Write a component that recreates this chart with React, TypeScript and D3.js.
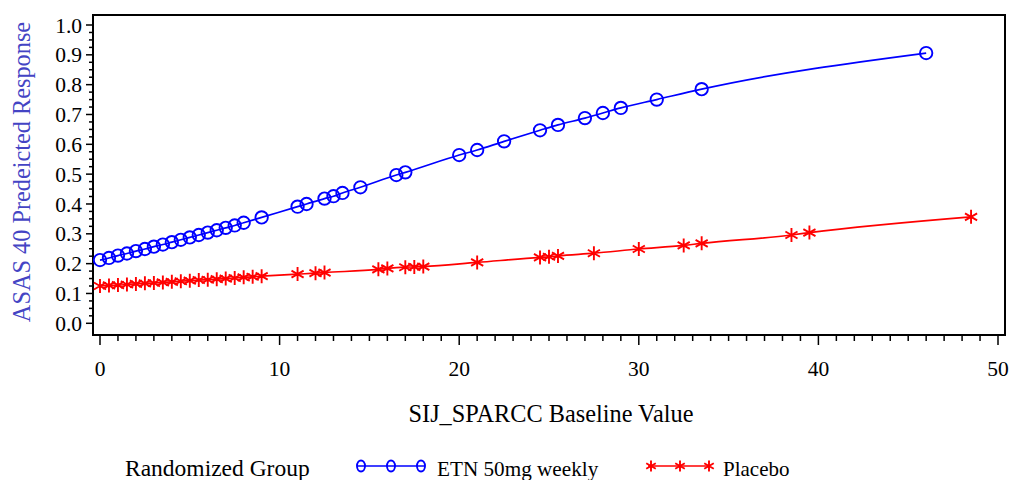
import React from "react";
import * as d3 from "d3";

const etnX = [0,0.5,1,1.5,2,2.5,3,3.5,4,4.5,5,5.5,6,6.5,7,7.5,8,9,11,11.5,12.5,13,13.5,14.5,16.5,17,20,21,22.5,24.5,25.5,27,28,29,31,33.5,46];
const etnY = [0.212,0.219,0.227,0.234,0.242,0.249,0.257,0.264,0.272,0.280,0.288,0.296,0.304,0.312,0.320,0.328,0.337,0.355,0.391,0.400,0.418,0.426,0.437,0.456,0.497,0.506,0.564,0.581,0.610,0.647,0.665,0.688,0.705,0.722,0.750,0.785,0.906];

const placeboX = [0,0.5,1,1.5,2,2.5,3,3.5,4,4.5,5,5.5,6,6.5,7,7.5,8,8.5,9,11,12,12.5,15.5,16,17,17.5,18,21,24.5,25,25.5,27.5,30,32.5,33.5,38.5,39.5,48.5];
const placeboY = [0.125,0.127,0.128,0.130,0.132,0.134,0.135,0.137,0.139,0.141,0.143,0.145,0.146,0.148,0.150,0.152,0.154,0.156,0.158,0.165,0.168,0.170,0.181,0.184,0.188,0.189,0.190,0.204,0.221,0.223,0.226,0.235,0.249,0.261,0.268,0.296,0.304,0.357];

const xTicks = [0, 10, 20, 30, 40, 50];
const yTicks = [0, 0.1, 0.2, 0.3, 0.4, 0.5, 0.6, 0.7, 0.8, 0.9, 1.0];

const seriesNames = ["ETN 50mg weekly", "Placebo"];
const legendTitle = "Randomized Group";
const xTitle = "SIJ_SPARCC Baseline Value";
const yTitle = "ASAS 40 Predeicted Response";

const FONT = "Liberation Serif, DejaVu Serif, serif";
const BLUE = "#0000ff";
const RED = "#ff0000";

function starPath(cx: number, cy: number, r: number) {
  let d = "";
  for (let k = 0; k < 3; k++) {
    const a = Math.PI / 2 + (k * Math.PI) / 3;
    const dx = Math.cos(a) * r;
    const dy = Math.sin(a) * r;
    d += `M${cx - dx},${cy - dy}L${cx + dx},${cy + dy}`;
  }
  return d;
}

export default function App() {
  const W = 1011, H = 480;
  const frame = { x0: 93, x1: 1005, y0: 15, y1: 335 };
  const x = d3.scaleLinear().domain([0, 50]).range([100, 998]);
  const y = d3.scaleLinear().domain([0, 1]).range([323.3, 25]);

  const line = d3.line<[number, number]>()
    .x((d) => x(d[0]))
    .y((d) => y(d[1]))
    .curve(d3.curveMonotoneX);

  const etn: [number, number][] = etnX.map((v, i) => [v, etnY[i]]);
  const pla: [number, number][] = placeboX.map((v, i) => [v, placeboY[i]]);

  const xMinor = d3.range(0, 51, 1);
  const yMinor = d3.range(0, 1.0001, 0.025);
  const ts = { fontFamily: FONT };

  return (
    <svg width={W} height={H} style={{ position: "absolute", left: 0, top: 0, background: "#fff" }}>
      <rect x={0} y={0} width={W} height={H} fill="#fff" />
      <rect x={frame.x0} y={frame.y0} width={frame.x1 - frame.x0} height={frame.y1 - frame.y0}
        fill="none" stroke="#000" strokeWidth={2} />
      {yMinor.map((v, i) => (
        <line key={"ym" + i} x1={frame.x0} x2={frame.x0 - (i % 4 === 0 ? 7 : 4)} y1={y(v)} y2={y(v)} stroke="#000" strokeWidth={1.5} />
      ))}
      {yTicks.map((v) => (
        <text key={"yt" + v} x={82} y={y(v)} dy="0.35em" textAnchor="end" style={ts} fontSize={21.5} fill="#000">
          {d3.format(".1f")(v)}
        </text>
      ))}
      {xMinor.map((v) => (
        <line key={"xm" + v} x1={x(v)} x2={x(v)} y1={frame.y1} y2={frame.y1 + (v % 10 === 0 ? 10 : 6)} stroke="#000" strokeWidth={1.5} />
      ))}
      {xTicks.map((v) => (
        <text key={"xt" + v} x={x(v)} y={376} textAnchor="middle" style={ts} fontSize={21.5} fill="#000">
          {v}
        </text>
      ))}
      <path d={line(etn) || ""} fill="none" stroke={BLUE} strokeWidth={1.7} />
      <path d={line(pla) || ""} fill="none" stroke={RED} strokeWidth={1.7} />
      {etn.map((d, i) => (
        <circle key={"ec" + i} cx={x(d[0])} cy={y(d[1])} r={6.2} fill="none" stroke={BLUE} strokeWidth={1.9} />
      ))}
      {pla.map((d, i) => (
        <path key={"ps" + i} d={starPath(x(d[0]), y(d[1]), 7)} fill="none" stroke={RED} strokeWidth={1.9} />
      ))}
      <text x={551} y={422} textAnchor="middle" style={ts} fontSize={24.3} fill="#000">{xTitle}</text>
      <text transform={`translate(30,172) rotate(-90)`} textAnchor="middle" style={ts} fontSize={24.3} fill="#4444c4">{yTitle}</text>
      <text x={125} y={476} style={ts} fontSize={23.5} fill="#000">{legendTitle}</text>
      <line x1={357} x2={425} y1={466} y2={466} stroke={BLUE} strokeWidth={1.7} />
      {[361, 391, 421].map((cx) => (
        <ellipse key={"lc" + cx} cx={cx} cy={466} rx={4} ry={5.5} fill="none" stroke={BLUE} strokeWidth={1.9} />
      ))}
      <text x={437} y={476} style={ts} fontSize={21.2} fill="#000">{seriesNames[0]}</text>
      <line x1={648} x2={710} y1={466} y2={466} stroke={RED} strokeWidth={1.7} />
      {[651, 680, 709].map((cx) => (
        <path key={"ls" + cx} d={starPath(cx, 466, 5.5)} fill="none" stroke={RED} strokeWidth={1.9} />
      ))}
      <text x={723} y={476} style={ts} fontSize={21} fill="#000">{seriesNames[1]}</text>
    </svg>
  );
}
